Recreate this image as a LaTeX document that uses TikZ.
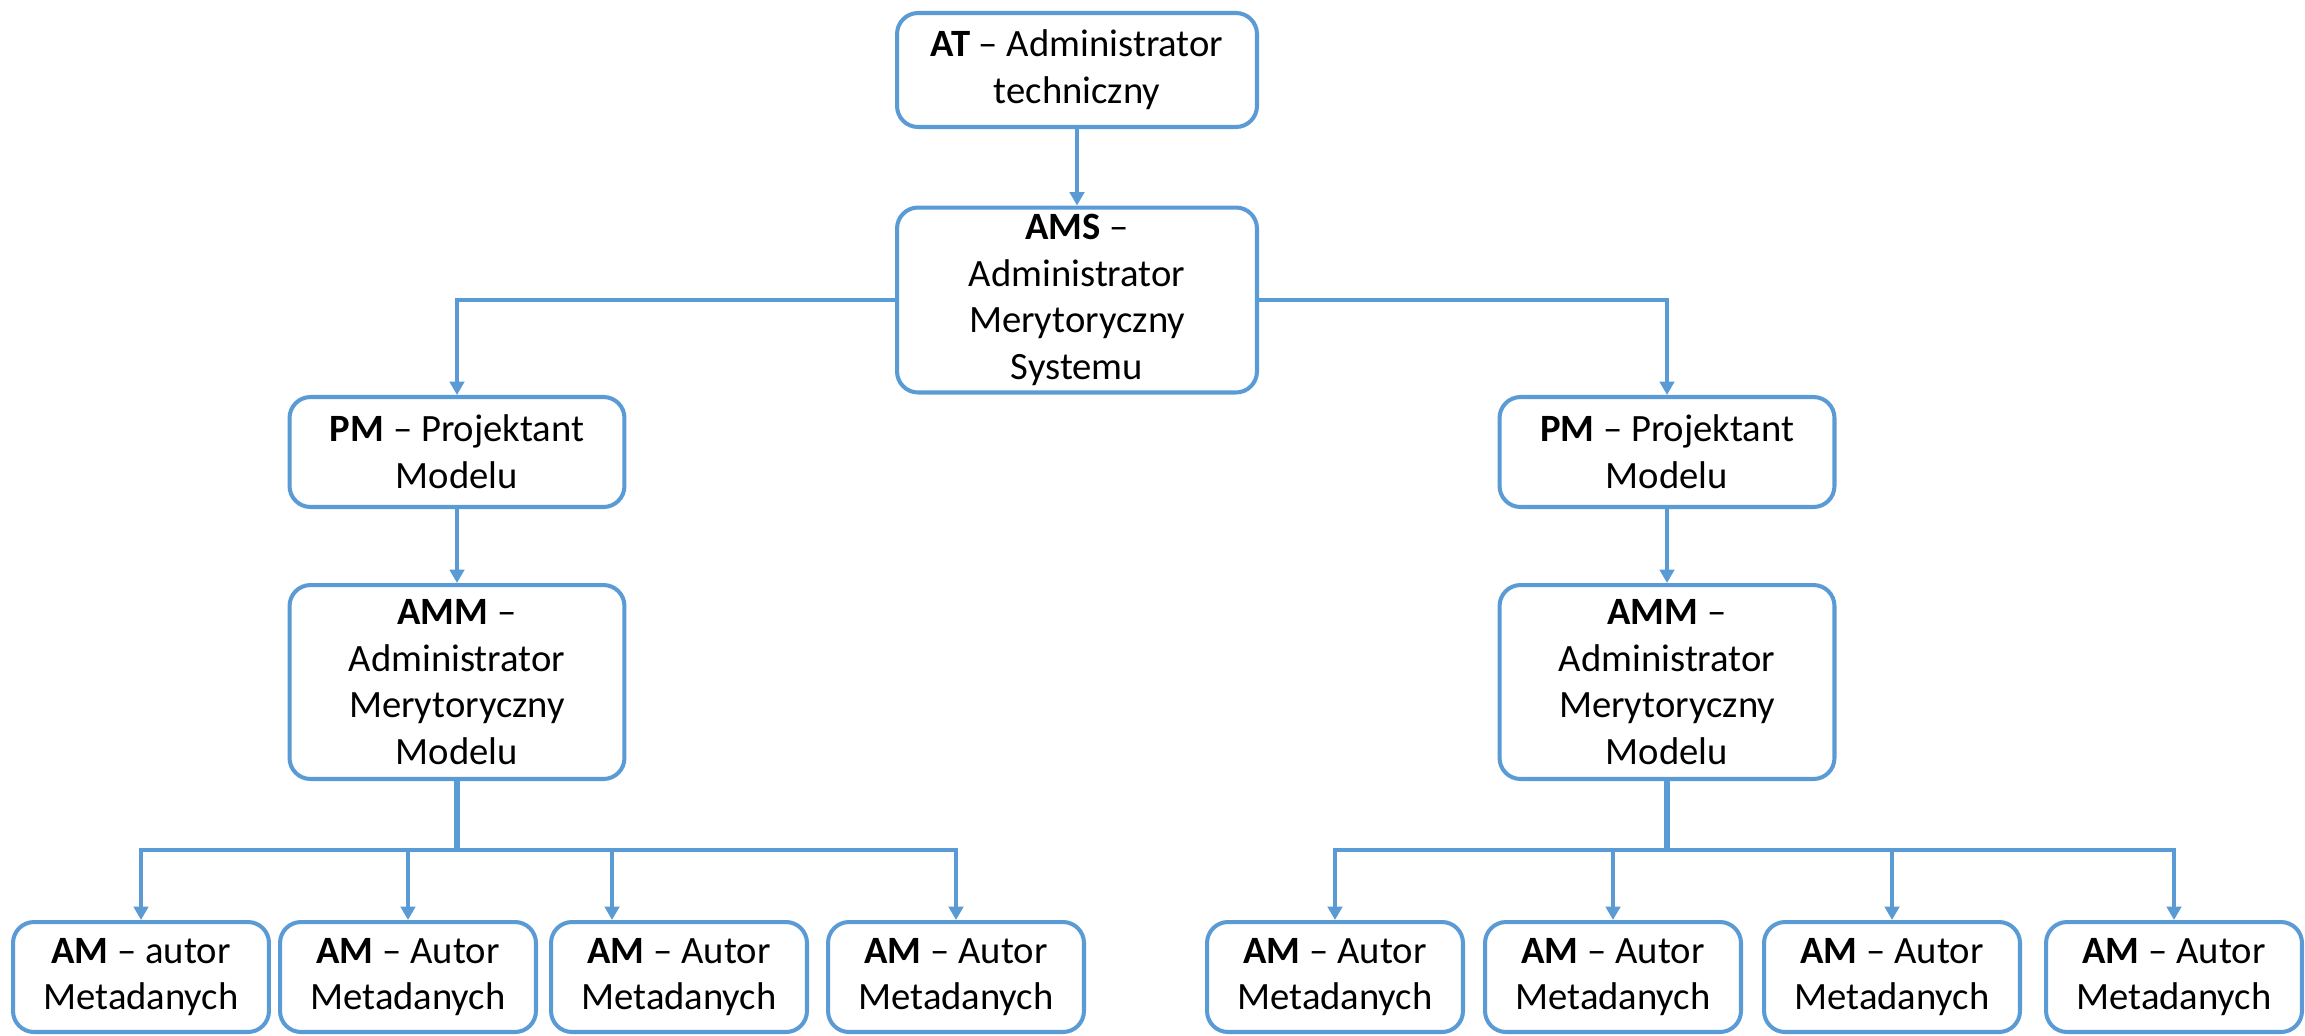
\documentclass[tikz,border=0pt]{standalone}
\usepackage{fontspec}
\setmainfont{Carlito}
\usetikzlibrary{arrows.meta}
\definecolor{linia}{HTML}{5B9BD5}

\begin{document}
\begin{tikzpicture}[x=0.02cm, y=-0.02cm,
    rola/.style={draw=linia, line width=2.3pt, rounded corners=0.42cm, fill=white,
        align=center, inner sep=2pt, font=\fontsize{22}{26.6}\selectfont},
    lisc/.style={rola, minimum width=5.12cm, minimum height=2.2cm},
    link/.style={draw=linia, line width=2pt, -{Triangle[length=0.27cm, width=0.29cm]}},
    szyna/.style={draw=linia, line width=3pt}]
    \useasboundingbox (0,0) rectangle (2305,1035);

    % gora
    \node[rola, minimum width=7.2cm, minimum height=2.28cm] (at) at (1077,70)
        {\textbf{AT} – Administrator\\techniczny};
    \node[rola, minimum width=7.2cm, minimum height=3.7cm] (ams) at (1077,300)
        {\textbf{AMS} –\\Administrator\\Merytoryczny\\Systemu};

    % lewa galaz
    \node[rola, minimum width=6.7cm, minimum height=2.2cm] (pmL) at (457,452)
        {\textbf{PM} – Projektant\\Modelu};
    \node[rola, minimum width=6.7cm, minimum height=3.88cm] (ammL) at (457,682)
        {\textbf{AMM} –\\Administrator\\Merytoryczny\\Modelu};
    \node[lisc] (amL1) at (141,977) {\textbf{AM} – autor\\Metadanych};
    \node[lisc] (amL2) at (408,977) {\textbf{AM} – Autor\\Metadanych};
    \node[lisc] (amL3) at (679,977) {\textbf{AM} – Autor\\Metadanych};
    \node[lisc] (amL4) at (956,977) {\textbf{AM} – Autor\\Metadanych};

    % prawa galaz
    \node[rola, minimum width=6.7cm, minimum height=2.2cm] (pmR) at (1667,452)
        {\textbf{PM} – Projektant\\Modelu};
    \node[rola, minimum width=6.7cm, minimum height=3.88cm] (ammR) at (1667,682)
        {\textbf{AMM} –\\Administrator\\Merytoryczny\\Modelu};
    \node[lisc] (amR1) at (1335,977) {\textbf{AM} – Autor\\Metadanych};
    \node[lisc] (amR2) at (1613,977) {\textbf{AM} – Autor\\Metadanych};
    \node[lisc] (amR3) at (1892,977) {\textbf{AM} – Autor\\Metadanych};
    \node[lisc] (amR4) at (2174,977) {\textbf{AM} – Autor\\Metadanych};

    \coordinate (busL) at (457,850);
    \coordinate (busR) at (1667,850);

    % polaczenia
    \draw[link] (at) -- (ams);
    \draw[link] (ams.west) -| (pmL.north);
    \draw[link] (ams.east) -| (pmR.north);
    \draw[link] (pmL) -- (ammL);
    \draw[link] (pmR) -- (ammR);

    \draw[szyna] (ammL.south) -- (busL);
    \draw[link] (busL) -| (amL1.north);
    \draw[link] (busL) -| (amL2.north);
    \draw[link] (busL) -| ([xshift=-1.34cm]amL3.north);
    \draw[link] (busL) -| (amL4.north);

    \draw[szyna] (ammR.south) -- (busR);
    \foreach \k in {1,...,4}
        \draw[link] (busR) -| (amR\k.north);
\end{tikzpicture}
\end{document}
